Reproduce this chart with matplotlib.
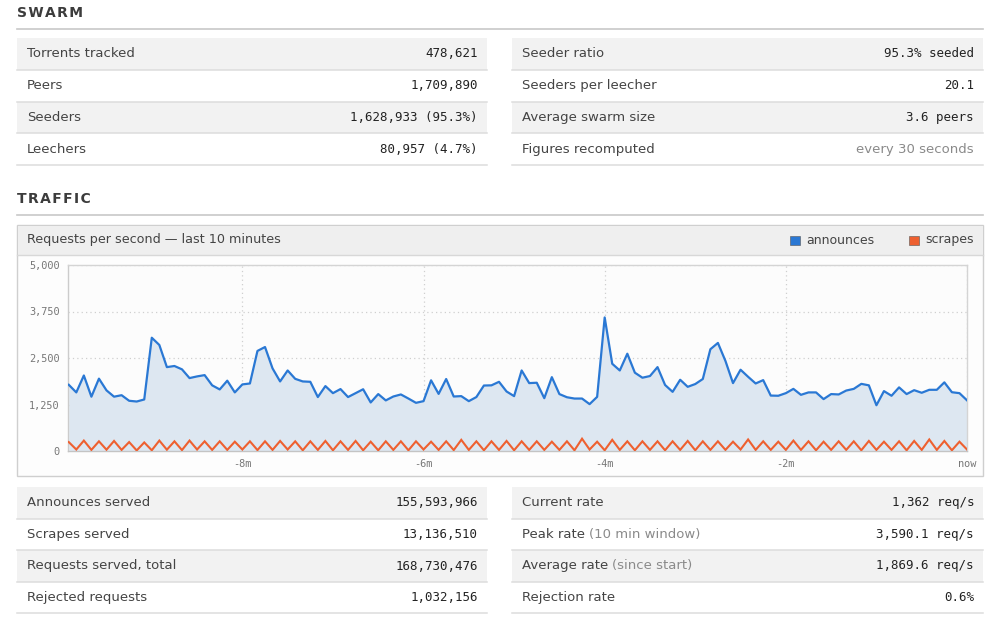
import numpy as np
import matplotlib
matplotlib.use("Agg")
import matplotlib.pyplot as plt
from matplotlib.patches import Rectangle
from matplotlib.lines import Line2D

# ---------------- data ----------------
swarm_left_labels = ["Torrents tracked", "Peers", "Seeders", "Leechers"]
swarm_left_values = ["478,621", "1,709,890", "1,628,933 (95.3%)", "80,957 (4.7%)"]
swarm_right_labels = ["Seeder ratio", "Seeders per leecher", "Average swarm size", "Figures recomputed"]
swarm_right_values = ["95.3% seeded", "20.1", "3.6 peers", "every 30 seconds"]

traffic_left_labels = ["Announces served", "Scrapes served", "Requests served, total", "Rejected requests"]
traffic_left_values = ["155,593,966", "13,136,510", "168,730,476", "1,032,156"]
traffic_right_labels = ["Current rate", "Peak rate", "Average rate", "Rejection rate"]
traffic_right_notes = ["", "(10 min window)", "(since start)", ""]
traffic_right_values = ["1,362 req/s", "3,590.1 req/s", "1,869.6 req/s", "0.6%"]

chart_title = "Requests per second \u2014 last 10 minutes"
series_names = ["announces", "scrapes"]

seconds = np.arange(-595, 1, 5)  # one sample every 5 s over the last 10 minutes

announces = [
    1780, 1575, 2030, 1460, 1945, 1630, 1460, 1500, 1350, 1330,
    1385, 3045, 2850, 2255, 2285, 2195, 1960, 2005, 2040, 1765,
    1655, 1890, 1575, 1790, 1815, 2690, 2795, 2220, 1870, 2165,
    1940, 1870, 1860, 1450, 1745, 1555, 1665, 1450, 1555, 1660,
    1305, 1530, 1360, 1465, 1520, 1410, 1295, 1340, 1900, 1535,
    1935, 1465, 1475, 1340, 1450, 1760, 1765, 1860, 1600, 1475,
    2165, 1825, 1835, 1420, 1985, 1530, 1445, 1410, 1410, 1260,
    1455, 3590, 2345, 2165, 2615, 2105, 1970, 2015, 2255, 1775,
    1590, 1915, 1725, 1800, 1935, 2735, 2905, 2420, 1825, 2185,
    1995, 1815, 1905, 1490, 1485, 1555, 1670, 1510, 1575, 1575,
    1395, 1530, 1520, 1625, 1670, 1805, 1765, 1230, 1610, 1485,
    1710, 1530, 1635, 1565, 1645, 1645, 1845, 1580, 1555, 1362,
]
scrapes = [
    240, 40, 280, 30, 260, 35, 270, 30, 240, 15,
    230, 20, 280, 35, 260, 25, 280, 40, 260, 30,
    260, 30, 250, 40, 260, 25, 260, 30, 270, 40,
    260, 20, 260, 30, 270, 20, 260, 30, 270, 20,
    250, 20, 260, 30, 260, 20, 260, 40, 250, 30,
    260, 25, 300, 30, 260, 20, 260, 30, 270, 20,
    260, 30, 260, 30, 250, 30, 260, 20, 330, 40,
    250, 20, 300, 30, 260, 20, 260, 30, 260, 20,
    260, 30, 270, 20, 260, 30, 260, 30, 250, 40,
    310, 30, 260, 30, 250, 30, 280, 30, 260, 20,
    250, 30, 260, 30, 260, 20, 270, 30, 250, 30,
    260, 20, 270, 30, 310, 30, 270, 20, 250, 40,
]
y_ticks = [0, 1250, 2500, 3750, 5000]
y_tick_labels = ["0", "1,250", "2,500", "3,750", "5,000"]
x_ticks = [-480, -360, -240, -120, 0]
x_tick_labels = ["-8m", "-6m", "-4m", "-2m", "now"]

# ---------------- style ----------------
SANS = "DejaVu Sans"
MONO = "DejaVu Sans Mono"
BLUE = "#2a78d4"
ORANGE = "#ee6030"
FILL = "#dde7f1"
LABEL_C = "#444444"
VALUE_C = "#222222"
NOTE_C = "#8a8a8a"
SHADE = "#f2f2f2"
RULE = "#dddddd"

W, H = 1000, 624
fig = plt.figure(figsize=(W / 100, H / 100), dpi=100)
fig.patch.set_facecolor("white")

bg = fig.add_axes([0, 0, 1, 1])
bg.set_xlim(0, W)
bg.set_ylim(H, 0)
bg.axis("off")


def section_header(text, y_text, y_rule):
    spaced = "\u200a".join(text)
    bg.text(17, y_text, spaced, family=SANS, fontsize=10, fontweight="bold",
            color="#3c3c3c", va="center", ha="left")
    bg.add_line(Line2D([17, 983], [y_rule, y_rule], color="#c8c8c8", lw=1.2))


def table(x0, x1, y0, row_h, labels, values, notes=None, mono_flags=None):
    for i, (lab, val) in enumerate(zip(labels, values)):
        top = y0 + i * row_h
        if i % 2 == 0:
            bg.add_patch(Rectangle((x0, top), x1 - x0, row_h, facecolor=SHADE,
                                   edgecolor="none"))
        bg.add_line(Line2D([x0, x1], [top + row_h, top + row_h], color=RULE, lw=1.1))
        yc = top + row_h / 2
        t = bg.text(x0 + 10, yc, lab, family=SANS, fontsize=9.5, color=LABEL_C,
                    va="center", ha="left")
        if notes and notes[i]:
            bg.annotate(notes[i], xy=(1, 0.5), xycoords=t, xytext=(3, 0),
                        textcoords="offset points", family=SANS, fontsize=9.5,
                        color=NOTE_C, va="center", ha="left")
        is_mono = True if mono_flags is None else mono_flags[i]
        bg.text(x1 - 9, yc, val, family=MONO if is_mono else SANS,
                fontsize=9 if is_mono else 9.5,
                color=VALUE_C if is_mono else NOTE_C, va="center", ha="right")


# SWARM section
section_header("SWARM", 13, 28.5)
table(17, 487, 38, 31.75, swarm_left_labels, swarm_left_values)
table(512, 983, 38, 31.75, swarm_right_labels, swarm_right_values,
      mono_flags=[True, True, True, False])

# TRAFFIC section
section_header("TRAFFIC", 199, 214.5)

# chart panel
bg.add_patch(Rectangle((17, 225), 966, 251, facecolor="#fdfdfd",
                       edgecolor="#cfcfcf", lw=1.0))
bg.add_patch(Rectangle((17.5, 225.5), 965, 29, facecolor="#efefef",
                       edgecolor="none"))
bg.add_line(Line2D([17, 983], [254.5, 254.5], color="#d8d8d8", lw=1.0))
bg.text(27, 240, chart_title, family=SANS, fontsize=9.2, color=LABEL_C,
        va="center", ha="left")
# legend
leg_x = [790, 909]
for lx, name, col in zip(leg_x, series_names, [BLUE, ORANGE]):
    bg.add_patch(Rectangle((lx, 235.5), 10, 9, facecolor=col,
                           edgecolor="#555555", lw=0.4))
    bg.text(lx + 16, 240, name, family=SANS, fontsize=9.0, color=LABEL_C,
            va="center", ha="left")

table(17, 487, 487, 31.6, traffic_left_labels, traffic_left_values)
table(512, 983, 487, 31.6, traffic_right_labels, traffic_right_values,
      notes=traffic_right_notes)

# ---------------- chart ----------------
left, right, top, bottom = 68, 967, 265, 451
ax = fig.add_axes([left / W, (H - bottom) / H, (right - left) / W, (bottom - top) / H])
ax.set_facecolor("#fcfcfc")
ax.fill_between(seconds, announces, 0, color=FILL, lw=0, zorder=1)
ax.plot(seconds, announces, color=BLUE, lw=1.6, zorder=3, solid_joinstyle="round")
ax.plot(seconds, scrapes, color=ORANGE, lw=1.5, zorder=3, solid_joinstyle="miter")
ax.set_xlim(-595.5, 0)
ax.set_ylim(0, 5000)
ax.set_yticks(y_ticks)
ax.set_yticklabels(y_tick_labels)
ax.set_xticks(x_ticks)
ax.set_xticklabels(x_tick_labels)
ax.tick_params(length=0, labelsize=7.4, labelcolor="#777777")
ax.tick_params(axis="y", pad=6)
ax.tick_params(axis="x", pad=6)
for lab in ax.get_xticklabels() + ax.get_yticklabels():
    lab.set_family(MONO)
ax.grid(True, linestyle=(0, (1, 2.5)), color="#cfcfcf", lw=0.9, zorder=0)
ax.set_axisbelow(True)
for side, sp in ax.spines.items():
    sp.set_color("#d4d4d4")
    sp.set_linewidth(1.0)
ax.spines["bottom"].set_color("#c4c4c4")
ax.spines["left"].set_color("#cccccc")

fig.savefig("out.png", dpi=100, facecolor="white")
